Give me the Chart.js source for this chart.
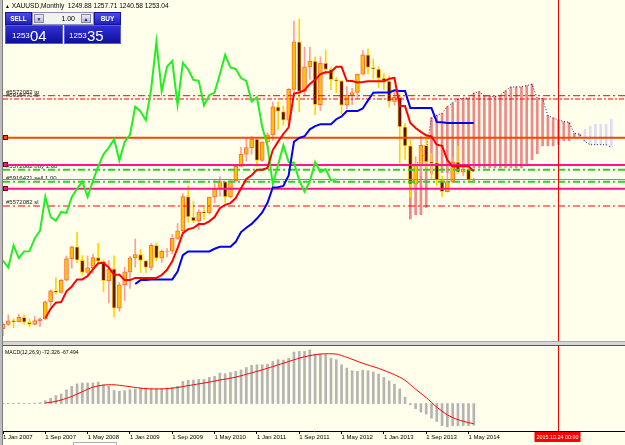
<!DOCTYPE html>
<html>
<head>
<meta charset="utf-8">
<title>XAUUSD,Monthly</title>
<script src="https://cdn.jsdelivr.net/npm/chart.js@4.4.1/dist/chart.umd.min.js"></script>
<style>
  body { margin:0; width:625px; height:445px; overflow:hidden; position:relative; background:#FFFFEC; font-family:"Liberation Sans", Arial, sans-serif; }
  .abs { position:absolute; }
  #lborder { left:0; top:0; width:2px; height:445px; background:#BDBDBD; border-right:1px solid #7C7C7C; }
  #split { left:3px; top:341px; width:622px; height:3px; background:#D6D6D6; border-top:1px solid #A8A8A8; border-bottom:1px solid #555; }
  #head { left:5px; top:1px; font-size:6.6px; line-height:10px; color:#000; white-space:pre; }
  #macdLabel { left:5px; top:348px; font-size:6px; line-height:8px; color:#000; white-space:pre; transform:scaleX(0.86); transform-origin:left top; }
  .btn { background:linear-gradient(#4A4AEE,#2020C2); border:1px solid #1414A0; box-sizing:border-box; color:#fff; font-weight:bold; font-size:6.5px; line-height:11px; text-align:center; }
  .lot { background:#F2F2F2; border:1px solid #8C8CB4; box-sizing:border-box; }
  .arr { background:linear-gradient(#ECECF6,#B8B8D2); border:1px solid #8888AA; box-sizing:border-box; color:#202060; font-size:5px; line-height:8px; text-align:center; }
  .pbox { background:linear-gradient(#3030D4,#10109C); border:1px solid #5A5ADC; box-sizing:border-box; }
  .small { color:#fff; font-size:8px; line-height:8px; }
  .big { color:#fff; font-size:15px; line-height:15px; }
  #tab { left:73px; top:442px; width:44px; height:3px; background:#FFFFFF; border:1px solid #B0B0B0; border-bottom:none; box-sizing:border-box; }
</style>
</head>
<body>
<canvas id="main" class="abs" width="622" height="341" style="left:3px;top:0"></canvas>
<canvas id="macd" class="abs" width="622" height="99" style="left:3px;top:346px"></canvas>
<div id="lborder" class="abs"></div>
<div id="split" class="abs"></div>
<div id="tab" class="abs"></div>

<div id="head" class="abs"><span style="font-size:5px">▲</span> XAUUSD,Monthly  1249.88 1257.71 1240.58 1253.04</div>

<div class="abs btn" style="left:5px;top:12px;width:27px;height:13px">SELL</div>
<div class="abs lot" style="left:32px;top:12px;width:62px;height:13px"></div>
<div class="abs arr" style="left:34px;top:14px;width:10px;height:9px">▼</div>
<div class="abs" style="left:46px;top:12px;width:29px;height:13px;font-size:7px;line-height:13px;text-align:right;color:#000">1.00</div>
<div class="abs arr" style="left:81px;top:14px;width:10px;height:9px">▲</div>
<div class="abs btn" style="left:94px;top:12px;width:27px;height:13px">BUY</div>
<div class="abs pbox" style="left:5px;top:25px;width:58px;height:19px"></div>
<div class="abs pbox" style="left:64px;top:25px;width:57px;height:19px"></div>
<div class="abs small" style="left:12px;top:32px">1253</div>
<div class="abs big" style="left:30px;top:28px">04</div>
<div class="abs small" style="left:69px;top:32px">1253</div>
<div class="abs big" style="left:87px;top:28px">35</div>

<div id="macdLabel" class="abs">MACD(12,26,9) -72.326 -67.494</div>

<script>
// monthly XAUUSD bars, Jan 2007 .. Jun 2014
var opens = [632,650,665,662,680,659,650,666,673,744,790,783,
  834,924,973,917,866,886,928,913,832,881,718,815,
  869,927,941,916,887,979,926,954,955,1008,1040,1182,
  1097,1081,1118,1114,1180,1214,1244,1181,1248,1308,1358,1386,
  1421,1332,1409,1439,1556,1536,1500,1628,1826,1620,1722,1746,
  1564,1738,1711,1668,1664,1562,1604,1615,1691,1772,1719,1713,
  1675,1663,1578,1595,1472,1393,1234,1313,1395,1326,1323,1250,
  1202,1244,1326,1284,1296,1249.88];
var highs = [656,690,674,692,690,673,683,678,748,794,845,838,
  935,975,1033,936,935,943,988,918,915,935,825,888,
  933,1006,962,915,986,989,960,966,1025,1070,1195,1227,
  1162,1128,1138,1180,1249,1265,1245,1250,1307,1388,1424,1432,
  1424,1411,1447,1575,1577,1560,1632,1912,1921,1804,1803,1764,
  1764,1791,1719,1677,1666,1641,1632,1692,1790,1796,1755,1723,
  1694,1684,1616,1606,1487,1417,1348,1433,1434,1362,1324,1267,
  1280,1345,1392,1332,1315,1257.71];
var lows = [603,646,636,661,651,641,647,642,670,725,776,780,
  832,884,907,855,850,862,906,786,740,681,705,749,
  800,889,866,865,876,915,908,931,945,1003,1030,1075,
  1073,1045,1087,1110,1156,1184,1155,1176,1244,1308,1330,1358,
  1309,1328,1381,1416,1462,1478,1480,1600,1535,1604,1670,1523,
  1540,1689,1627,1613,1527,1548,1564,1589,1689,1692,1673,1635,
  1626,1555,1562,1321,1338,1180,1208,1270,1290,1251,1226,1182,
  1201,1238,1277,1268,1241,1240.58];
var closes = [650,665,662,680,659,650,666,673,744,790,783,834,
  924,973,917,866,886,928,913,832,881,718,815,869,
  927,941,916,887,979,926,954,955,1008,1040,1182,1097,
  1081,1118,1114,1180,1214,1244,1181,1248,1308,1358,1386,1421,
  1332,1409,1439,1556,1536,1500,1628,1826,1620,1722,1746,1564,
  1738,1711,1668,1664,1562,1604,1615,1691,1772,1719,1713,1675,
  1663,1578,1595,1472,1393,1234,1313,1395,1326,1323,1250,1202,
  1244,1326,1284,1296,1250,1253.04];

// ichimoku lines
var tenkanFrom = 8;
var tenkan = [675.5,715,740.5,743,788,808,837.5,837.5,851.5,879,904.5,906.5,886.5,857,857,834.5,834.5,
  843.5,843.5,843.5,843.5,843.5,855.5,877.5,912.5,967.5,1030,1046,1051.5,1067.5,1067.5,1079,1097,
  1134,1147.5,1155,1176,1216.5,1255.5,1271,1293.5,1293.5,1301,1375.5,1410.5,1442.5,1470.5,1610.5,
  1615,1624.5,1651,1668.5,1691.5,1699.5,1700.5,1722,1722,1663.5,1663,1657,1659,1661.5,1661.5,1661.5,
  1661.5,1672,1675.5,1558.5,1558.5,1488,1467.5,1451.5,1437,1432,1398,1393,1333.5,1307,1308,1308,1308,1287];
var kijunFrom = 25;
var kijun = [818,834.5,834.5,837,837,837,837.5,837.5,870,938,954,954,954,954,954,965,973,973,973,994,
  1034.5,1052.5,1068.5,1090.5,1116,1156,1220,1221,1226.5,1270,1410,1426,1433,1462,1475.5,1483,1483,1483,
  1504,1515.5,1538,1538,1538,1548.5,1582.5,1614.5,1615,1615,1615,1624.5,1621,1621,1550.5,1550.5,1550.5,
  1550.5,1550.5,1492,1491.5,1488,1488,1488,1488,1488,1488];
var chikouShift = 26;
var cloudFrom = 77;
var spanA = [1297.8,1315.8,1334.5,1370.3,1510.3,1520.5,1528.8,1556.5,1572,1587.3,1591.3,1591.8,1613,
  1618.8,1600.8,1600.5,1597.5,1603.8,1622,1638,1638.3,1638.3,1643.5,1650,1589.8,1589.8,1519.3,1509,
  1501,1493.8,1491.3,1445,1442.3,1410.8,1397.5,1398,1398,1398,1387.5];
var spanB = [1089,1106.5,1106.5,1136.5,1276.5,1281,1281.5,1281.5,1295.5,
  1301,1301,1301,1301,1301,1301,1301,1301,1301,1301,1301,1301,1301,
  1313,1335,1360.5,1393,1393,1393,1398.5,1414.5,1414.5,1426,1433,1462,1475.5,1483,1483,1483,1504];

// MACD(12,26,9)
var macdMain = [1,1,1,2,1,1,2,3,9.5,18,27,32,46,58,66,69,69,69,72,63,58,44,41,43,
  46,49,52,52,50,50,50,52,54,58,74,78,79,81,81,88,91,102,100,104,108,113,121,128,
  130,130,132,141,147,146,152,173,175,175,180,166,166,164,152,147,130,119,110,108,112,110,
  106,99,88,76,65,49,21,-4,-17,-29,-35,-49,-60,-74,-78,-74,-74,-74,-74,-72.3];
var signalIdx = [8,9,11,13,15,17,19,21,23,25,27,29,31,33,35,37,39,41,43,45,47,49,51,54,57,60,63,65,68,71,74,76,78,80,82,84,86,88,89];
var signalVal = [2,4,12,24,40,55,62,63,59,54,50,49,50,54,60,66,72,79,85,93,103,113,124,141,157,166,166,155,135,118,97,78,48,20,-12,-38,-54,-64,-67.5];

// time axis
var tickIdx = [0,8,16,24,32,40,48,56,64,72,80,88];
var tickLabels = ['1 Jan 2007','1 Sep 2007','1 May 2008','1 Jan 2009','1 Sep 2009','1 May 2010',
  '1 Jan 2011','1 Sep 2011','1 May 2012','1 Jan 2013','1 Sep 2013','1 May 2014'];
var cursorIdx = 105;
var cursorLabel = '2015.10.24 00:00';

// horizontal levels and trade labels
var levelPrices = [1601.8, 1588, 1427, 1313.4, 1293.9, 1253.04, 1243.9, 1214.8, 1142.8];
var orderLabels = ['#5572082 tp', '#5916471 sl', '#5572082 buy 1.00', '#5916471 sell 1.00', '#5572082 sl'];
var orderLabelLevel = [0, 1, 4, 6, 8];
var markerLevel = [2, 3, 7];

var xMax = 117.58;

var bullFill = '#FFC400', bullLine = '#FF6A40', bullWick = '#FF9C9C';
var bearFill = '#600C00', bearLine = '#FFCC00', bearWick = '#FFD400';

function isUp(i) {
  return closes[i] >= opens[i];
}

function hline(price, color, width, dash, order) {
  return {
    type: 'line', order: order,
    data: [{x: 0, y: price}, {x: xMax + 1, y: price}],
    borderColor: color, borderWidth: width, borderDash: dash,
    pointRadius: 0, fill: false
  };
}

function series(values, from) {
  return values.map(function(v, k) { return {x: from + k, y: v}; });
}

var dashDot = [7, 3, 2, 3];
var levelStyles = [
  ['#FF0000', 1, dashDot], ['#FF0000', 1, [5, 2, 2, 2]], ['#FF4500', 2, []], ['#FF1493', 2, []],
  ['#32CD32', 2, dashDot], ['#8C8C8C', 1, []], ['#32CD32', 2, dashDot], ['#FF1493', 2, []],
  ['#FF0000', 1, dashDot]
];

var mainDecor = {
  id: 'mainDecor',
  beforeDatasetsDraw: function(chart) {
    var ctx = chart.ctx, ys = chart.scales.y;
    ctx.save();
    ctx.font = '6px "Liberation Sans"';
    ctx.fillStyle = '#202020';
    orderLabels.forEach(function(t, k) {
      ctx.fillText(t, 3, ys.getPixelForValue(levelPrices[orderLabelLevel[k]]) - 2);
    });
    ctx.restore();
  },
  afterDatasetsDraw: function(chart) {
    var ctx = chart.ctx, ys = chart.scales.y, xs = chart.scales.x;
    ctx.save();
    markerLevel.forEach(function(l) {
      var y = Math.round(ys.getPixelForValue(levelPrices[l]));
      ctx.fillStyle = levelStyles[l][0];
      ctx.fillRect(0, y - 2, 4, 4);
      ctx.strokeStyle = '#800000';
      ctx.lineWidth = 1;
      ctx.strokeRect(0.5, y - 2.5, 4, 4);
    });
    var cx = Math.round(xs.getPixelForValue(cursorIdx)) + 0.5;
    ctx.strokeStyle = '#FF0000';
    ctx.beginPath();
    ctx.moveTo(cx, 0);
    ctx.lineTo(cx, chart.chartArea.bottom);
    ctx.stroke();
    ctx.restore();
  }
};

var macdDecor = {
  id: 'macdDecor',
  afterDraw: function(chart) {
    var ctx = chart.ctx, xs = chart.scales.x, area = chart.chartArea;
    var cx = Math.round(xs.getPixelForValue(cursorIdx)) + 0.5;
    ctx.save();
    ctx.strokeStyle = '#FF0000';
    ctx.beginPath();
    ctx.moveTo(cx, 0);
    ctx.lineTo(cx, area.bottom);
    ctx.stroke();
    ctx.fillStyle = '#FF0000';
    ctx.fillRect(cx - 24, area.bottom + 1, 46, 10);
    ctx.fillStyle = '#FFFFFF';
    ctx.font = '6px "Liberation Sans"';
    ctx.textAlign = 'center';
    ctx.textBaseline = 'middle';
    ctx.fillText(cursorLabel, cx - 1, area.bottom + 6.5, 42);
    ctx.restore();
  }
};

Chart.defaults.font.family = '"Liberation Sans", Arial, sans-serif';

var mainSets = [
  {type: 'line', order: 1, data: series(tenkan, tenkanFrom), borderColor: '#FF0000', borderWidth: 2, pointRadius: 0},
  {type: 'line', order: 2, data: series(kijun, kijunFrom), borderColor: '#0000FF', borderWidth: 2, pointRadius: 0},
  {type: 'line', order: 3, data: series(closes.slice(chikouShift), 0), borderColor: '#22EE22', borderWidth: 2, pointRadius: 0},
  {
    type: 'bar', order: 7, grouped: false, barThickness: 4, borderWidth: 1, borderSkipped: false,
    data: opens.map(function(o, i) { return {x: i, y: [o, closes[i]]}; }),
    backgroundColor: function(c) { return isUp(c.dataIndex) ? bullFill : bearFill; },
    borderColor: function(c) { return isUp(c.dataIndex) ? bullLine : bearLine; }
  },
  {
    type: 'bar', order: 8, grouped: false, barThickness: 1, borderWidth: 0,
    data: lows.map(function(l, i) { return {x: i, y: [l, highs[i]]}; }),
    backgroundColor: function(c) { return isUp(c.dataIndex) ? bullWick : bearWick; }
  },
  {type: 'line', order: 9, data: series(spanA, cloudFrom), borderColor: '#1A1A80', borderWidth: 1, borderDash: [1, 2], pointRadius: 0},
  {
    type: 'bar', order: 10, grouped: false, barThickness: 2, borderWidth: 0,
    data: spanA.map(function(a, k) { return {x: cloudFrom + k, y: [spanB[k], a]}; }),
    backgroundColor: function(c) { return spanA[c.dataIndex] >= spanB[c.dataIndex] ? '#F08888' : '#DCDCF4'; }
  }
];
levelPrices.forEach(function(p, l) {
  mainSets.push(hline(p, levelStyles[l][0], levelStyles[l][1], levelStyles[l][2], 5));
});

new Chart('main', {
  type: 'bar',
  data: {datasets: mainSets},
  options: {
    responsive: false,
    animation: false,
    layout: {padding: 0},
    plugins: {legend: {display: false}, tooltip: {enabled: false}},
    scales: {
      x: {type: 'linear', min: 0, max: xMax, offset: false, display: false},
      y: {type: 'linear', min: 581.1, max: 2000, display: false}
    }
  },
  plugins: [mainDecor]
});

new Chart('macd', {
  type: 'bar',
  data: {
    datasets: [
      {type: 'line', order: 1, data: signalIdx.map(function(x, k) { return {x: x, y: signalVal[k]}; }),
        borderColor: '#FF0000', borderWidth: 1, pointRadius: 0, tension: 0.25},
      {type: 'bar', order: 2, grouped: false, barThickness: 2, borderWidth: 0,
        data: series(macdMain, 0), backgroundColor: '#B4B4B4'}
    ]
  },
  options: {
    responsive: false,
    animation: false,
    layout: {padding: 0},
    plugins: {legend: {display: false}, tooltip: {enabled: false}},
    scales: {
      x: {
        type: 'linear', min: 0, max: xMax, offset: false, position: 'bottom',
        afterBuildTicks: function(s) { s.ticks = tickIdx.map(function(v) { return {value: v}; }); },
        afterFit: function(s) { s.height = 14; },
        ticks: {
          autoSkip: false, maxRotation: 0, align: 'start', padding: 0, color: '#000',
          font: {size: 6},
          callback: function(v, k) { return tickLabels[k]; }
        },
        grid: {drawOnChartArea: false, drawTicks: true, tickLength: 3, color: '#000', offset: false},
        border: {display: true, color: '#000', width: 1}
      },
      y: {type: 'linear', min: -92, max: 193, display: false}
    }
  },
  plugins: [macdDecor]
});
</script>
</body>
</html>
